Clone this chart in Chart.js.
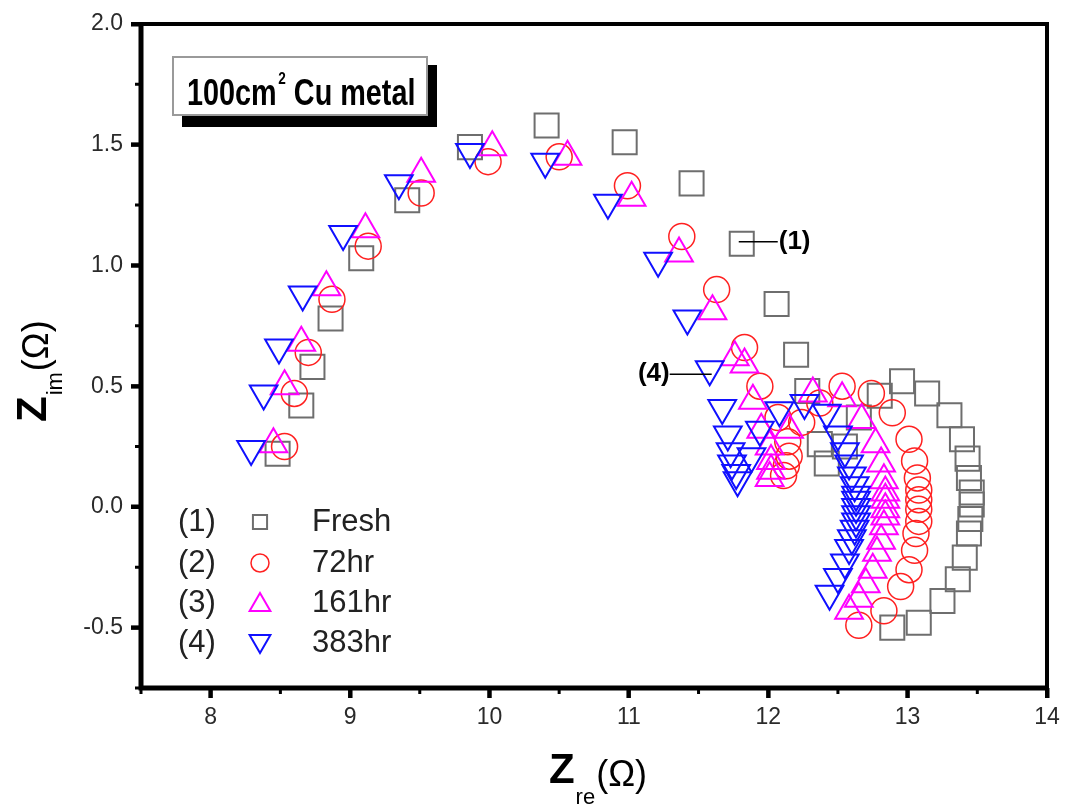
<!DOCTYPE html>
<html>
<head>
<meta charset="utf-8">
<script src="https://cdn.jsdelivr.net/npm/chart.js@4.4.1/dist/chart.umd.min.js"></script>
<style>
  body { margin: 0; background: #fff; }
  #wrap { width: 1066px; height: 810px; }
</style>
</head>
<body>
<div id="wrap"><canvas id="nyquist" width="1066" height="810"></canvas></div>
<script>
// ---- data (Zre, Zim in ohm) ----
const freshX = [8.48, 8.65, 8.73, 8.86, 9.08, 9.41, 9.86, 10.41, 10.97, 11.45, 11.81, 12.06, 12.20, 12.28, 12.37, 12.42,
                12.55, 12.65, 12.80, 12.96, 13.14, 13.30, 13.39, 13.43, 13.44, 13.46, 13.46, 13.45, 13.44, 13.41, 13.36, 13.25, 13.08, 12.89];
const freshY = [0.22, 0.42, 0.58, 0.78, 1.03, 1.27, 1.49, 1.58, 1.51, 1.34, 1.09, 0.84, 0.63, 0.48, 0.26, 0.18,
                0.25, 0.37, 0.46, 0.52, 0.47, 0.38, 0.28, 0.20, 0.12, 0.06, 0.01, -0.05, -0.11, -0.21, -0.30, -0.39, -0.48, -0.50];

const hr72X = [8.53, 8.60, 8.70, 8.87, 9.13, 9.51, 9.99, 10.50, 10.99, 11.38, 11.63, 11.83, 11.94, 12.07, 12.14, 12.15, 12.13, 12.11,
               12.24, 12.37, 12.53, 12.74, 12.89, 13.01, 13.05, 13.07, 13.08, 13.08, 13.08, 13.08, 13.06, 13.05, 13.01, 12.95, 12.83, 12.65];
const hr72Y = [0.25, 0.47, 0.64, 0.86, 1.08, 1.30, 1.43, 1.45, 1.33, 1.12, 0.90, 0.66, 0.50, 0.37, 0.27, 0.21, 0.17, 0.13,
               0.35, 0.43, 0.50, 0.47, 0.39, 0.28, 0.19, 0.12, 0.07, 0.03, -0.01, -0.06, -0.11, -0.18, -0.26, -0.33, -0.43, -0.49];

const hr161X = [8.45, 8.53, 8.65, 8.83, 9.11, 9.51, 10.02, 10.56, 11.02, 11.36, 11.60, 11.76, 11.83, 11.89, 11.95, 12.01, 12.02, 12.02, 12.01,
                12.15, 12.32, 12.53, 12.67, 12.77, 12.81, 12.83, 12.84, 12.84, 12.84, 12.84, 12.83, 12.81, 12.78, 12.75, 12.70, 12.65, 12.58];
const hr161Y = [0.26, 0.50, 0.68, 0.91, 1.15, 1.38, 1.49, 1.45, 1.28, 1.05, 0.81, 0.62, 0.59, 0.44, 0.32, 0.25, 0.19, 0.15, 0.12,
                0.32, 0.47, 0.45, 0.36, 0.26, 0.18, 0.11, 0.06, 0.03, -0.01, -0.04, -0.08, -0.14, -0.19, -0.26, -0.32, -0.38, -0.43];

const hr383X = [8.29, 8.38, 8.49, 8.66, 8.95, 9.35, 9.86, 10.40, 10.85, 11.21, 11.42, 11.58, 11.67, 11.71, 11.73, 11.74, 11.77, 11.78,
                11.88, 11.94, 12.08, 12.26, 12.42, 12.50, 12.55, 12.58, 12.60, 12.62, 12.63, 12.63, 12.63, 12.63, 12.63, 12.62, 12.60, 12.58, 12.55, 12.50, 12.44];
const hr383Y = [0.24, 0.47, 0.66, 0.88, 1.13, 1.34, 1.47, 1.43, 1.26, 1.02, 0.78, 0.57, 0.41, 0.30, 0.23, 0.18, 0.14, 0.11,
                0.21, 0.32, 0.40, 0.43, 0.39, 0.30, 0.23, 0.18, 0.13, 0.09, 0.05, 0.03, 0.00, -0.03, -0.06, -0.09, -0.13, -0.17, -0.23, -0.29, -0.36];

const seriesNames = ['Fresh', '72hr', '161hr', '383hr'];
const seriesTags = ['(1)', '(2)', '(3)', '(4)'];

const xTicks = [8, 9, 10, 11, 12, 13, 14];
const xMinor = [7.5, 8.5, 9.5, 10.5, 11.5, 12.5, 13.5];
const yTicks = [-0.5, 0, 0.5, 1.0, 1.5, 2.0];
const yMinor = [-0.75, -0.25, 0.25, 0.75, 1.25, 1.75];

// callouts on the curves: tag, anchor point (data units)
const callouts = [
  { tag: '(1)', x: 11.81, y: 1.09, side: 'right' },
  { tag: '(4)', x: 11.58, y: 0.57, side: 'left' }
];

const FONT = '"Liberation Sans", Arial, Helvetica, sans-serif';

const toPoints = (xs, ys) => xs.map((x, i) => ({ x: x, y: ys[i] }));

const looks = [
  { color: '#6e6e6e', style: 'rect',     radius: 17, rot: 0,   lw: 2,   order: 4, legR: 10 },
  { color: '#ff2020', style: 'circle',   radius: 13, rot: 0,   lw: 1.5, order: 3, legR: 9 },
  { color: '#ff00ff', style: 'triangle', radius: 16, rot: 0,   lw: 2,   order: 2, legR: 12 },
  { color: '#1010ff', style: 'triangle', radius: 16, rot: 180, lw: 2,   order: 1, legR: 12 }
];

const allX = [freshX, hr72X, hr161X, hr383X];
const allY = [freshY, hr72Y, hr161Y, hr383Y];

const datasets = seriesNames.map((name, i) => ({
  label: name,
  data: toPoints(allX[i], allY[i]),
  showLine: false,
  order: looks[i].order,
  pointStyle: looks[i].style,
  pointRotation: looks[i].rot,
  pointRadius: looks[i].radius,
  pointHoverRadius: looks[i].radius,
  pointBorderWidth: looks[i].lw,
  pointBorderColor: looks[i].color,
  pointBackgroundColor: 'rgba(0,0,0,0)'
}));

function marker(ctx, look, x, y, r) {
  ctx.save();
  ctx.strokeStyle = look.color;
  ctx.fillStyle = 'rgba(0,0,0,0)';
  ctx.lineWidth = look.lw;
  if (Chart.helpers && Chart.helpers.drawPoint) {
    Chart.helpers.drawPoint(ctx, { pointStyle: look.style, rotation: look.rot, radius: r, borderWidth: look.lw }, x, y);
  } else {
    ctx.beginPath();
    ctx.arc(x, y, r, 0, Math.PI * 2);
    ctx.stroke();
  }
  ctx.restore();
}

const decor = {
  id: 'decor',
  beforeDatasetsDraw(chart) {
    const { ctx, chartArea: a, scales } = chart;
    ctx.save();
    ctx.strokeStyle = '#000';
    ctx.lineWidth = 4;
    ctx.strokeRect(a.left, a.top, a.right - a.left, a.bottom - a.top);
    // heavier left and bottom axis lines
    ctx.lineWidth = 5;
    ctx.beginPath();
    ctx.moveTo(a.left, a.top);
    ctx.lineTo(a.left, a.bottom);
    ctx.lineTo(a.right, a.bottom);
    ctx.stroke();
    // major ticks (outward)
    ctx.lineWidth = 4;
    ctx.beginPath();
    xTicks.forEach(v => {
      const px = scales.x.getPixelForValue(v);
      ctx.moveTo(px, a.bottom);
      ctx.lineTo(px, a.bottom + 10);
    });
    yTicks.forEach(v => {
      const py = scales.y.getPixelForValue(v);
      ctx.moveTo(a.left, py);
      ctx.lineTo(a.left - 10, py);
    });
    ctx.stroke();
    // minor ticks
    ctx.lineWidth = 3;
    ctx.beginPath();
    xMinor.forEach(v => {
      const px = scales.x.getPixelForValue(v);
      ctx.moveTo(px, a.bottom);
      ctx.lineTo(px, a.bottom + 6);
    });
    yMinor.forEach(v => {
      const py = scales.y.getPixelForValue(v);
      ctx.moveTo(a.left, py);
      ctx.lineTo(a.left - 6, py);
    });
    ctx.stroke();
    ctx.restore();
  },
  afterDraw(chart) {
    const { ctx, chartArea: a, scales } = chart;
    ctx.save();
    ctx.fillStyle = '#000';
    ctx.textAlign = 'left';

    // sample label box with drop shadow
    ctx.fillRect(182, 65, 255, 62);
    ctx.fillStyle = '#fff';
    ctx.fillRect(173, 57, 254, 58);
    ctx.strokeStyle = '#9a9a9a';
    ctx.lineWidth = 2;
    ctx.strokeRect(173, 57, 254, 58);
    ctx.fillStyle = '#000';
    ctx.save();
    ctx.translate(187, 105);
    ctx.scale(0.8, 1);
    ctx.textBaseline = 'alphabetic';
    ctx.font = 'bold 36px ' + FONT;
    ctx.fillText('100cm', 0, 0);
    let w = ctx.measureText('100cm').width;
    ctx.font = 'bold 17px ' + FONT;
    ctx.fillText('2', w + 2, -21);
    w += ctx.measureText('2').width + 2;
    ctx.font = 'bold 36px ' + FONT;
    ctx.fillText(' Cu metal', w, 0);
    ctx.restore();

    // x axis title  Z_re(Ω)
    ctx.textBaseline = 'alphabetic';
    ctx.font = 'bold 42px ' + FONT;
    const wZ = ctx.measureText('Z').width;
    ctx.font = '22px ' + FONT;
    const wre = ctx.measureText('re').width;
    ctx.font = '36px ' + FONT;
    const wO = ctx.measureText('(Ω)').width;
    let sx = (a.left + a.right) / 2 + 4 - (wZ + wre + wO + 2) / 2;
    ctx.font = 'bold 42px ' + FONT;
    ctx.fillText('Z', sx, 783);
    ctx.font = '22px ' + FONT;
    ctx.fillText('re', sx + wZ + 1, 804);
    ctx.font = '36px ' + FONT;
    ctx.fillText('(Ω)', sx + wZ + wre + 2, 786);

    // y axis title  Z_im(Ω)
    ctx.save();
    ctx.translate(46, 422);
    ctx.rotate(-Math.PI / 2);
    ctx.font = 'bold 42px ' + FONT;
    ctx.fillText('Z', 0, 0);
    const wZy = ctx.measureText('Z').width;
    ctx.font = '22px ' + FONT;
    ctx.fillText('im', wZy + 1, 16);
    const wim = ctx.measureText('im').width;
    ctx.font = '36px ' + FONT;
    ctx.fillText('(Ω)', wZy + wim + 2, 2);
    ctx.restore();

    // legend
    const rows = [522, 563, 603, 643];
    ctx.font = '31px ' + FONT;
    ctx.textBaseline = 'middle';
    seriesNames.forEach((name, i) => {
      ctx.fillStyle = '#222';
      ctx.fillText(seriesTags[i], 178, rows[i]);
      marker(ctx, looks[i], 260, rows[i] + (i === 2 ? 2 : (i === 3 ? -2 : 0)), looks[i].legR);
      ctx.fillStyle = '#222';
      ctx.fillText(name, 312, rows[i]);
    });

    // callouts
    ctx.fillStyle = '#000';
    ctx.strokeStyle = '#000';
    ctx.lineWidth = 1.5;
    ctx.font = 'bold 26px ' + FONT;
    callouts.forEach(c => {
      const px = scales.x.getPixelForValue(c.x);
      const py = scales.y.getPixelForValue(c.y);
      ctx.beginPath();
      if (c.side === 'right') {
        ctx.moveTo(px - 3, py - 2);
        ctx.lineTo(px + 36, py - 2);
        ctx.stroke();
        ctx.textAlign = 'left';
        ctx.fillText(c.tag, px + 37, py - 2);
      } else {
        const ty = py + 5;
        ctx.moveTo(px + 2, ty);
        ctx.lineTo(px - 40, ty);
        ctx.stroke();
        ctx.textAlign = 'right';
        ctx.fillText(c.tag, px - 40, ty);
      }
    });
    ctx.restore();
  }
};

new Chart(document.getElementById('nyquist').getContext('2d'), {
  type: 'scatter',
  data: { datasets: datasets },
  plugins: [decor],
  options: {
    responsive: false,
    animation: false,
    devicePixelRatio: 1,
    layout: { padding: { top: 24, right: 16, left: 0, bottom: 0 } },
    plugins: {
      legend: { display: false },
      tooltip: { enabled: false }
    },
    scales: {
      x: {
        type: 'linear',
        min: 7.5,
        max: 14,
        afterBuildTicks: s => { s.ticks = xTicks.map(v => ({ value: v })); },
        afterFit: s => { s.height = 122; },
        border: { display: false },
        grid: { display: true, drawOnChartArea: false, drawTicks: true, tickLength: 10, tickWidth: 4, tickColor: '#000' },
        ticks: {
          color: '#2a2a2a',
          padding: 6,
          maxRotation: 0,
          font: { family: FONT, size: 23 },
          callback: v => String(v)
        }
      },
      y: {
        type: 'linear',
        min: -0.75,
        max: 2.0,
        afterBuildTicks: s => { s.ticks = yTicks.map(v => ({ value: v })); },
        afterFit: s => { s.width = 141; },
        border: { display: false },
        grid: { display: true, drawOnChartArea: false, drawTicks: true, tickLength: 10, tickWidth: 4, tickColor: '#000' },
        ticks: {
          color: '#2a2a2a',
          padding: 8,
          font: { family: FONT, size: 23 },
          callback: v => Number(v).toFixed(1)
        }
      }
    }
  }
});
</script>
</body>
</html>
